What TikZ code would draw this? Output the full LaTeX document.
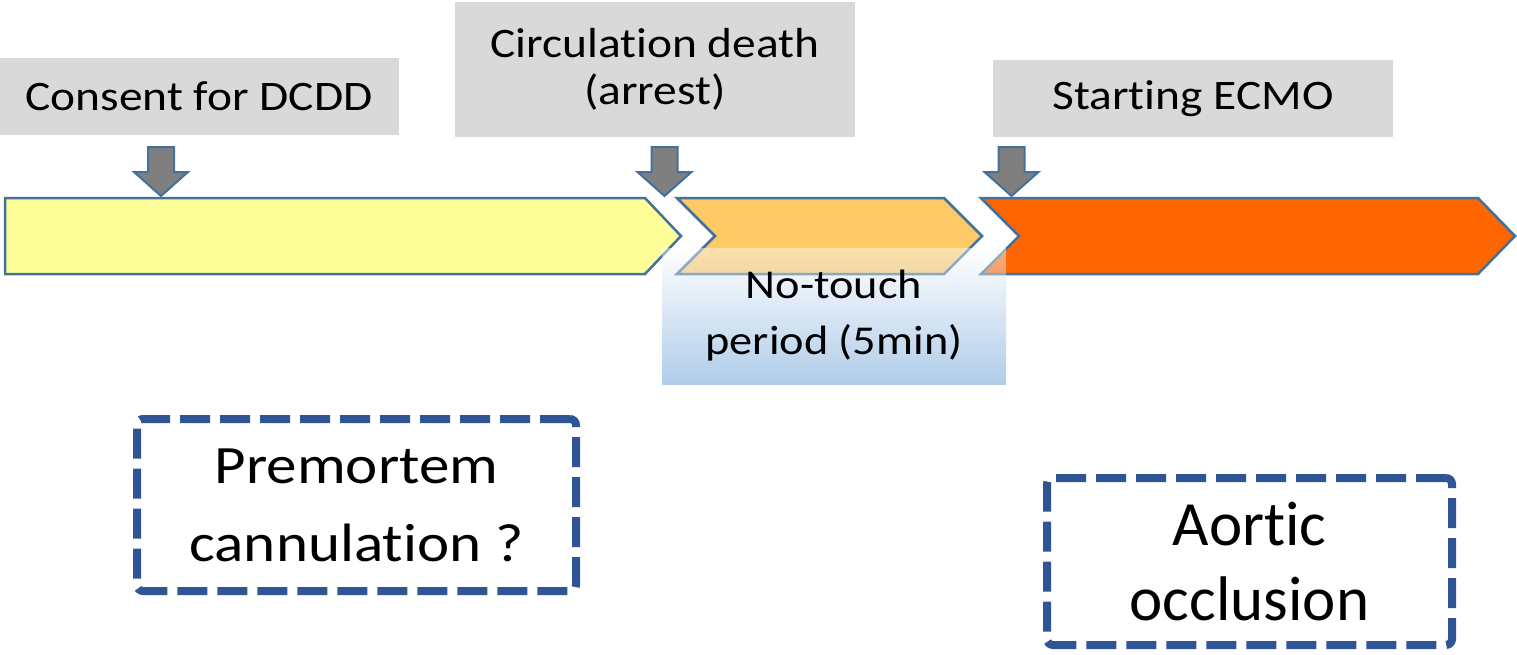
\documentclass[tikz,border=0pt]{standalone}
\usepackage{fontspec}
\setmainfont[Ligatures=NoCommon]{Carlito}
\newfontfamily\widefont[FakeStretch=1.13, Ligatures=NoCommon]{Carlito}
\usetikzlibrary{positioning}

\definecolor{tagGray}{HTML}{D9D9D9}
\definecolor{markGray}{HTML}{7F7F7F}
\definecolor{edgeBlue}{HTML}{41719C}
\definecolor{dashBlue}{HTML}{2F5597}
\definecolor{phaseYellow}{HTML}{FFFF99}
\definecolor{phaseAmber}{HTML}{FFC966}
\definecolor{phaseOrange}{HTML}{FF6600}
\definecolor{touchBlue}{HTML}{4F8FCE}

% grey block arrow pointing down onto the time line
\newcommand{\dropmark}[1]{%
	\draw[marker] (#1-13,147) -- (#1+13,147) -- (#1+13,172) -- (#1+27,172)
		-- (#1,196) -- (#1-27,172) -- (#1-13,172) -- cycle;}

\begin{document}
\begin{tikzpicture}[x=1pt,y=-1pt]

	\useasboundingbox (0,0) rectangle (1517,654);

	\tikzstyle{every node}=[inner sep=0pt, align=center]
	\tikzstyle{tag}    = [fill=tagGray, minimum width=400pt, font=\widefont\fontsize{42}{47}\selectfont]
	\tikzstyle{phase}  = [draw=edgeBlue, line width=2.5pt, line join=miter]
	\tikzstyle{marker} = [fill=markGray, draw=edgeBlue, line width=2pt]
	\tikzstyle{option} = [draw=dashBlue, line width=8pt, dash pattern=on 30pt off 10pt, rounded corners=6pt]

	\node[tag, minimum height=77pt]  (consent) at (199,96.5)  {Consent for DCDD};
	\node[tag, minimum height=135pt] (arrest)  at (655,69.5)  {Circulation death\\(arrest)};
	\node[tag, minimum height=77pt]  (ecmo)    at (1193,98.5) {Starting ECMO};

	% time line
	\draw[phase, fill=phaseYellow] (5,198) -- (645,198) -- (681,236) -- (645,274) -- (5,274) -- cycle;
	\draw[phase, fill=phaseAmber]  (677,198) -- (944,198) -- (982,236) -- (944,274) -- (677,274) -- (715,236) -- cycle;
	\draw[phase, fill=phaseOrange] (981,198) -- (1478,198) -- (1515,236) -- (1478,274) -- (981,274) -- (1019,236) -- cycle;

	\dropmark{161}
	\dropmark{664.5}
	\dropmark{1011.5}

	\node[minimum width=344pt, minimum height=136pt, top color=white, bottom color=touchBlue,
		fill opacity=0.45, text opacity=1, font=\widefont\fontsize{41}{56}\selectfont]
		(pause) at (834,316) {No-touch\\period (5min)};

	\node[option, minimum width=439pt, minimum height=172pt, font=\widefont\fontsize{54}{78}\selectfont]
		(premortem) at (356.5,505) {Premortem\\cannulation ?};
	\node[option, minimum width=405pt, minimum height=167pt, font=\fontsize{63}{75}\selectfont]
		(occlusion) at (1249.5,561.5) {Aortic\\occlusion};

\end{tikzpicture}
\end{document}
